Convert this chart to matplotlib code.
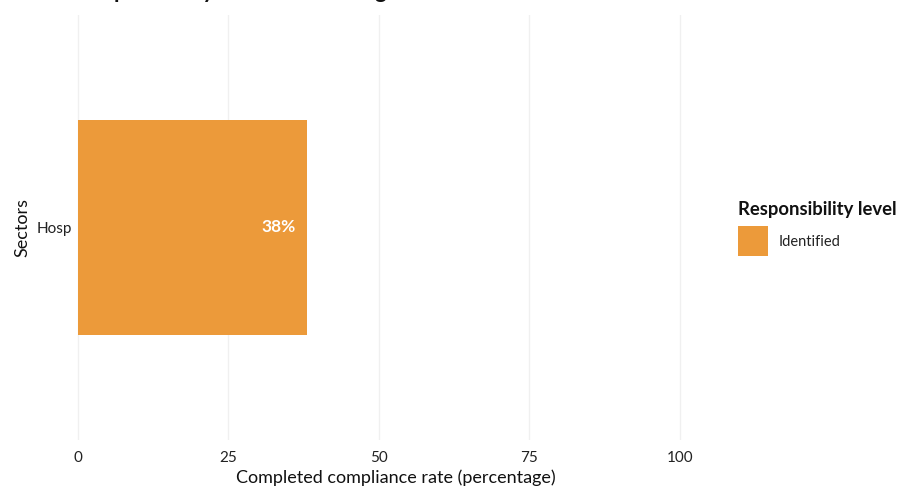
import matplotlib
matplotlib.use("Agg")
import matplotlib.pyplot as plt
from matplotlib.patches import Rectangle

plt.rcParams['font.family'] = ['Lato', 'DejaVu Sans']

sectors = ["Hosp"]
values = [38]
level = "Identified"
xticks = [0, 25, 50, 75, 100]
bar_color = "#EC9A3A"

fig = plt.figure(figsize=(8.98, 4.87), dpi=100)
ax = fig.add_axes([76/898, 47/487, 640/898, 425/487])

ypos = list(range(len(sectors)))
ax.barh(ypos, values, height=0.6, color=bar_color, zorder=2)
for y, v in zip(ypos, values):
    ax.text(v - 1.8, y, f"{v}%", ha='right', va='center', color='white',
            fontsize=12.5, fontweight='bold', zorder=3)

# x range: 0 -> pixel 78, 100 -> pixel 680 (6.02 px per unit)
ax.set_xlim(-2/6.02, 640/6.02 - 2/6.02)
ax.set_ylim(-0.595, 0.595)
ax.set_xticks(xticks)
ax.set_xticklabels([str(t) for t in xticks])
ax.set_yticks(ypos)
ax.set_yticklabels(sectors)
ax.grid(axis='x', color='#F0F0F0', linewidth=1.0, zorder=0)
ax.grid(axis='y', visible=False)
for s in ax.spines.values():
    s.set_visible(False)
ax.tick_params(axis='both', length=0, labelsize=11, colors='#222222')
ax.tick_params(axis='x', pad=8)
ax.tick_params(axis='y', pad=3)
ax.set_xlabel("Completed compliance rate (percentage)", fontsize=13, color='#111111', labelpad=3)
ax.set_ylabel("Sectors", fontsize=13, color='#111111', labelpad=4)

# title (clipped at top as in reference)
fig.text(68/898, 1 + 2/487, "Compliance by sector and rating", fontsize=16, fontweight='bold',
         ha='left', va='baseline', color='#111111')

# legend
fig.text(738/898, 1 - 209/487, "Responsibility level", fontsize=13.3, fontweight='bold',
         ha='left', va='center', color='#111111')
fig.patches.append(Rectangle((738/898, 1 - 256/487), 30/898, 30/487,
                             transform=fig.transFigure, facecolor=bar_color, edgecolor='none'))
fig.text(779/898, 1 - 242/487, level, fontsize=10.5, ha='left', va='center', color='#222222')

fig.savefig("out.png", dpi=100)
